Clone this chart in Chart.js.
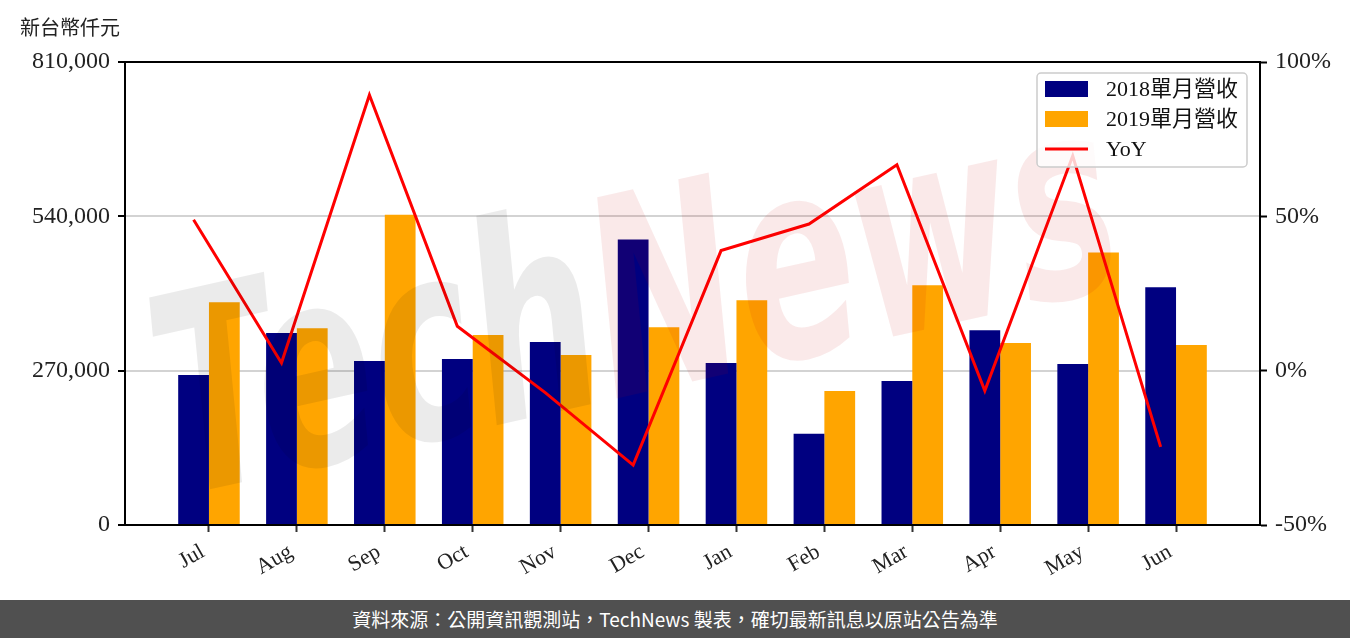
<!DOCTYPE html>
<html>
<head>
<meta charset="utf-8">
<script src="https://cdn.jsdelivr.net/npm/chart.js@4/dist/chart.umd.min.js"></script>
<style>
  html, body { margin: 0; padding: 0; background: #ffffff; }
  #wrap { position: relative; width: 1350px; height: 600px; }
  #footer {
    width: 1350px; height: 38px; background: #505050; color: #ffffff;
    font-family: "Noto Sans CJK TC", "Noto Sans", sans-serif; font-size: 19px;
    line-height: 38px; text-align: center;
  }
</style>
</head>
<body>
<div id="wrap"><canvas id="c" width="1350" height="600"></canvas></div>
<div id="footer">資料來源：公開資訊觀測站，TechNews 製表，確切最新訊息以原站公告為準</div>
<script>
// ---- data ----
const months = ['Jul', 'Aug', 'Sep', 'Oct', 'Nov', 'Dec', 'Jan', 'Feb', 'Mar', 'Apr', 'May', 'Jun'];
const rev2018 = [262500, 335700, 286900, 290400, 320000, 499400, 283400, 159700, 252100, 340900, 281700, 415800];
const rev2019 = [389700, 344400, 542900, 332200, 297300, 346100, 393100, 234600, 419300, 318200, 476700, 314800];
const yoy = [48.9, 2.5, 89.3, 14.4, -7.1, -30.6, 38.9, 47.5, 66.7, -6.5, 69.6, -24.7];
const leftTicks = [0, 270000, 540000, 810000];
const rightTicks = [-50, 0, 50, 100];
const seriesNames = ['2018單月營收', '2019單月營收', 'YoY'];
const unitLabel = '新台幣仟元';
const watermark = ['Tech', 'News'];

// ---- styling ----
const NAVY = '#000080', ORANGE = '#FFA500', RED = '#FF0000';
const SERIF = '"Liberation Serif", "Noto Sans CJK TC", serif';
const CAT_PCT = 0.7;                 // group width as a share of the month slot
const LINE_SHIFT = CAT_PCT / 4;      // line sits at the centre of the first bar

const frameAndExtras = {
  id: 'frameAndExtras',
  afterDatasetsDraw(chart) {
    const { ctx, chartArea: a } = chart;
    // watermark
    ctx.save();
    ctx.beginPath();
    ctx.rect(a.left, a.top, a.right - a.left, a.bottom - a.top);
    ctx.clip();
    ctx.translate(640, 320);
    ctx.rotate(-0.22);
    ctx.scale(0.7, 1.1);
    ctx.font = 'italic bold 250px "DejaVu Sans"';
    ctx.textBaseline = 'middle';
    const w1 = ctx.measureText(watermark[0]).width;
    const w2 = ctx.measureText(watermark[1]).width;
    let x0 = -(w1 + w2) / 2;
    ctx.fillStyle = 'rgba(0,0,0,0.08)';
    ctx.fillText(watermark[0], x0, 0);
    ctx.fillStyle = 'rgba(200,0,0,0.085)';
    ctx.fillText(watermark[1], x0 + w1, 0);
    ctx.restore();
  },
  afterDraw(chart) {
    const { ctx, chartArea: a } = chart;
    // frame (spines)
    ctx.save();
    ctx.strokeStyle = '#000';
    ctx.lineWidth = 2;
    ctx.strokeRect(a.left, a.top, a.right - a.left, a.bottom - a.top);
    // unit label
    ctx.fillStyle = '#222';
    ctx.font = '20px "Noto Sans CJK TC"';
    ctx.textBaseline = 'middle';
    ctx.textAlign = 'left';
    ctx.fillText(unitLabel, 20, 27);
    // legend
    const lw = 210, lh = 94;
    const lx = a.right - 13 - lw, ly = a.top + 11;
    ctx.beginPath();
    ctx.roundRect(lx, ly, lw, lh, 4);
    ctx.fillStyle = 'rgba(255,255,255,0.8)';
    ctx.fill();
    ctx.strokeStyle = '#cccccc';
    ctx.lineWidth = 1.5;
    ctx.stroke();
    const colors = [NAVY, ORANGE, RED];
    ctx.font = '22px ' + SERIF;
    seriesNames.forEach((name, i) => {
      const cy = ly + 16 + i * 30;
      if (i < 2) {
        ctx.fillStyle = colors[i];
        ctx.fillRect(lx + 8, cy - 8, 43, 16);
      } else {
        ctx.strokeStyle = colors[i];
        ctx.lineWidth = 3;
        ctx.beginPath();
        ctx.moveTo(lx + 8, cy);
        ctx.lineTo(lx + 51, cy);
        ctx.stroke();
      }
      ctx.fillStyle = '#111';
      ctx.fillText(name, lx + 69, cy + 1);
    });
    ctx.restore();
  }
};

new Chart(document.getElementById('c'), {
  data: {
    datasets: [
      {
        type: 'line', label: seriesNames[2], order: 0,
        data: yoy.map((v, i) => ({ x: i - LINE_SHIFT, y: v })),
        borderColor: RED, backgroundColor: RED, borderWidth: 3,
        pointRadius: 0, tension: 0, xAxisID: 'x', yAxisID: 'y1'
      },
      {
        type: 'bar', label: seriesNames[0], order: 1,
        data: rev2018.map((v, i) => ({ x: i, y: v })),
        backgroundColor: NAVY, categoryPercentage: CAT_PCT, barPercentage: 1,
        xAxisID: 'x', yAxisID: 'y'
      },
      {
        type: 'bar', label: seriesNames[1], order: 1,
        data: rev2019.map((v, i) => ({ x: i, y: v })),
        backgroundColor: ORANGE, categoryPercentage: CAT_PCT, barPercentage: 1,
        xAxisID: 'x', yAxisID: 'y'
      }
    ]
  },
  options: {
    responsive: false,
    animation: false,
    layout: { padding: { top: 62, left: 0, right: 0, bottom: 0 } },
    plugins: { legend: { display: false }, tooltip: { enabled: false } },
    scales: {
      x: {
        type: 'linear', min: -0.955, max: months.length - 1 + 0.955,
        offset: false,
        afterBuildTicks: s => { s.ticks = months.map((_, i) => ({ value: i })); },
        afterFit: s => { s.height = 75; },
        grid: { offset: false, drawOnChartArea: false, drawTicks: true, tickLength: 7, tickColor: '#333', tickWidth: 2 },
        border: { display: true, color: '#000', width: 2 },
        ticks: {
          autoSkip: false, minRotation: 30, maxRotation: 30, padding: 7, labelOffset: -6,
          color: '#222', font: { family: SERIF, size: 22 },
          callback: v => months[v]
        }
      },
      y: {
        position: 'left', min: leftTicks[0], max: leftTicks[leftTicks.length - 1],
        afterBuildTicks: s => { s.ticks = leftTicks.map(v => ({ value: v })); },
        afterFit: s => { s.width = 125; },
        grid: {
          color: c => (c.tick && (c.tick.value === leftTicks[0] || c.tick.value === leftTicks[leftTicks.length - 1])) ? 'rgba(0,0,0,0)' : '#d3d3d3',
          lineWidth: 2, tickLength: 7, tickColor: '#000', tickWidth: 2
        },
        border: { display: true, color: '#000', width: 2 },
        ticks: {
          padding: 8, color: '#222', font: { family: SERIF, size: 24 },
          callback: v => v.toLocaleString('en-US')
        }
      },
      y1: {
        position: 'right', min: rightTicks[0], max: rightTicks[rightTicks.length - 1],
        afterBuildTicks: s => { s.ticks = rightTicks.map(v => ({ value: v })); },
        afterFit: s => { s.width = 90; },
        grid: { drawOnChartArea: false, tickLength: 7, tickColor: '#000', tickWidth: 2 },
        border: { display: true, color: '#000', width: 2 },
        ticks: {
          padding: 8, color: '#222', font: { family: SERIF, size: 24 },
          callback: v => v + '%'
        }
      }
    }
  },
  plugins: [frameAndExtras]
});
</script>
</body>
</html>
